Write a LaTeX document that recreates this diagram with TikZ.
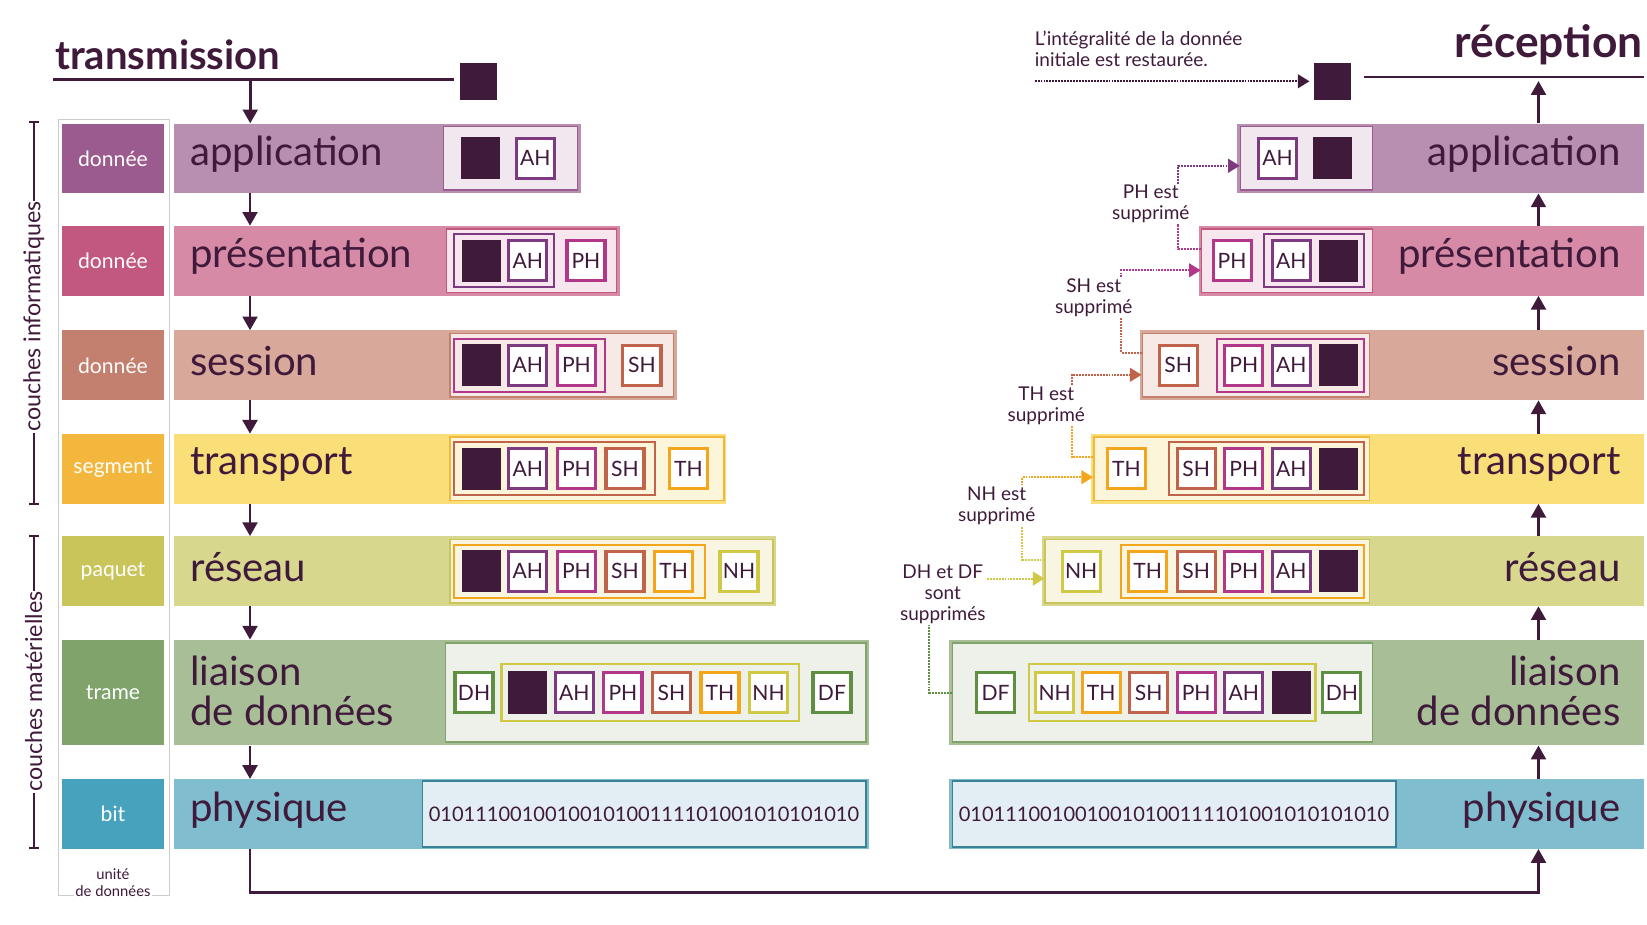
\documentclass[tikz,border=0pt]{standalone}
\usepackage{fontspec}
\setmainfont{Lato}
\usetikzlibrary{arrows.meta,positioning}
\definecolor{dk}{HTML}{3F1A3B}
\definecolor{appL}{HTML}{9B5B8E}\definecolor{appB}{HTML}{B88FB0}\definecolor{appI}{HTML}{F1E7EF}
\definecolor{preL}{HTML}{C2577F}\definecolor{preB}{HTML}{D68AA6}\definecolor{preI}{HTML}{F7E6EE}
\definecolor{sesL}{HTML}{C4806E}\definecolor{sesB}{HTML}{D8A89B}\definecolor{sesI}{HTML}{F6E9E6}
\definecolor{traL}{HTML}{F4B73D}\definecolor{traB}{HTML}{FADF78}\definecolor{traI}{HTML}{FDF5DA}
\definecolor{resL}{HTML}{C9C55A}\definecolor{resB}{HTML}{D8D78E}\definecolor{resI}{HTML}{F8F6E2}
\definecolor{liaL}{HTML}{7FA36A}\definecolor{liaB}{HTML}{A7BE96}\definecolor{liaI}{HTML}{EDF1EA}
\definecolor{phyL}{HTML}{47A3BD}\definecolor{phyB}{HTML}{80BECF}\definecolor{phyI}{HTML}{E3EEF4}
\definecolor{cAH}{HTML}{7E3A80}\definecolor{cPH}{HTML}{B2378A}\definecolor{cSH}{HTML}{C0634A}
\definecolor{cTH}{HTML}{F3A51B}\definecolor{cNH}{HTML}{CFC945}\definecolor{cDH}{HTML}{5F8F40}
\definecolor{cDF}{HTML}{5F8F40}
\tikzset
{
    unit/.style = {rectangle, inner sep=0, minimum width=97, text=white,
                   font=\fontsize{20}{22}\selectfont},
    bar/.style = {rectangle, inner sep=0},
    inbox/.style = {rectangle, inner sep=0, line width=1.5},
    grp/.style = {rectangle, inner sep=0, line width=2, minimum height=50},
    hd/.style = {rectangle, inner sep=0, line width=3, fill=white, text=dk,
                 minimum width=36, minimum height=38, font=\fontsize{20}{22}\selectfont},
    blk/.style = {rectangle, inner sep=0, fill=dk, minimum width=37, minimum height=40},
    title/.style = {text=dk, inner sep=0, font=\fontsize{38}{38}\selectfont},
    note/.style = {text=dk, align=center, inner sep=1, font=\fontsize{18}{20}\selectfont},
    flow/.style = {draw=dk, line width=2.5, -{Triangle[length=13,width=14]}},
    dots/.style = {densely dotted, line width=1.8},
    dotarrow/.style = {dots, -{Triangle[length=11,width=13]}}
}
\begin{document}
\begin{tikzpicture}[x=1pt, y=-1pt]
    \useasboundingbox (0,0) rectangle (1560,876);
    % rows
    \foreach \n/\u/\t/\b/\le/\rs in {app/donnée/117/183/550/1172, pre/donnée/214/280/587/1136,
            ses/donnée/313/379/641/1080, tra/segment/411/477/688/1033, res/paquet/508/574/735/987,
            lia/trame/606/706/823/899, phy/bit/738/804/823/899}
    {
        \node[unit, fill=\n L, minimum height={\b-\t}] (\n-u) at (107,{(\t+\b)/2}) {\u};
        \node[bar, fill=\n B, minimum width={\le-165}, minimum height={\b-\t}]
            (\n-l) at ({(165+\le)/2},{(\t+\b)/2}) {};
        \node[bar, fill=\n B, minimum width={1557-\rs}, minimum height={\b-\t}]
            (\n-r) at ({(\rs+1557)/2},{(\t+\b)/2}) {};
    }
    % inner boxes
    \foreach \n/\y/\h/\xl/\wl/\xr/\wr in {app/150/60/483.5/127/1237.5/125, pre/247/60/503.5/161/1219/162,
            ses/346/60/532/212/1189.5/215, tra/444/60/556/260/1166.5/261, res/541/60/579/306/1143.5/307,
            lia/656/94/621/398/1101/398}
    {
        \node[inbox, fill=\n I, draw=\n L, minimum width=\wl, minimum height=\h] (\n-li) at (\xl,\y) {};
        \node[inbox, fill=\n I, draw=\n L, minimum width=\wr, minimum height=\h] (\n-ri) at (\xr,\y) {};
    }
    \node[inbox, fill=phyI, draw=phyL!80!black, minimum width=420, minimum height=62] (phy-li) at (610,771) {};
    \node[inbox, fill=phyI, draw=phyL!80!black, minimum width=420, minimum height=62] (phy-ri) at (1112,771) {};

    % layer titles
    \foreach \n/\y/\t in {app/150/application, pre/247/présentation, ses/346/session, tra/444/transport,
            res/541/réseau, phy/771/physique}
    {
        \node[title, anchor=west] (\n-tl) at (180,\y-4) {\t};
        \node[title, anchor=east] (\n-tr) at (1535,\y-4) {\t};
    }
    \node[title, anchor=west, align=left] (lia-tl) at (180,654) {liaison\\de données};
    \node[title, anchor=east, align=right] (lia-tr) at (1535,654) {liaison\\de données};

    % groups
    \node[grp, draw=cAH, minimum width=95] (pre-gl) at (477.5,247) {};
    \node[grp, draw=cPH, minimum width=143] (ses-gl) at (501.5,346) {};
    \node[grp, draw=cSH, minimum width=190] (tra-gl) at (525,444) {};
    \node[grp, draw=cTH, minimum width=238] (res-gl) at (549,541) {};
    \node[grp, draw=cNH, minimum width=282, minimum height=54] (lia-gl) at (616,656) {};
    \node[grp, draw=cAH, minimum width=95] (pre-gr) at (1244.5,247) {};
    \node[grp, draw=cPH, minimum width=139] (ses-gr) at (1222.5,346) {};
    \node[grp, draw=cSH, minimum width=185] (tra-gr) at (1199.5,444) {};
    \node[grp, draw=cTH, minimum width=230] (res-gr) at (1177,541) {};
    \node[grp, draw=cNH, minimum width=271, minimum height=54] (lia-gr) at (1110.5,656) {};

    % data blocks
    \foreach \n/\y/\xl/\xr in {app/150/455/1262, pre/247/456/1268, ses/346/456/1268,
            tra/444/456/1268, res/541/456/1268, lia/656/500/1223}
    {
        \node[blk] (\n-dl) at (\xl,\y) {};
        \node[blk] (\n-dr) at (\xr,\y) {};
    }

    % headers, transmission side
    \foreach \x/\l in {507/AH} \node[hd, draw=c\l] (app-\l-l) at (\x,150) {\l};
    \foreach \x/\l in {500/AH, 555/PH} \node[hd, draw=c\l] (pre-\l-l) at (\x,247) {\l};
    \foreach \x/\l in {500/AH, 546/PH, 608/SH} \node[hd, draw=c\l] (ses-\l-l) at (\x,346) {\l};
    \foreach \x/\l in {500/AH, 546/PH, 592/SH, 652/TH} \node[hd, draw=c\l] (tra-\l-l) at (\x,444) {\l};
    \foreach \x/\l in {500/AH, 546/PH, 592/SH, 638/TH, 700/NH} \node[hd, draw=c\l] (res-\l-l) at (\x,541) {\l};
    \foreach \x/\l in {449/DH, 544/AH, 590/PH, 636/SH, 682/TH, 728/NH, 788/DF}
        \node[hd, draw=c\l] (lia-\l-l) at (\x,656) {\l};

    % headers, reception side
    \foreach \x/\l in {1210/AH} \node[hd, draw=c\l] (app-\l-r) at (\x,150) {\l};
    \foreach \x/\l in {1167/PH, 1223/AH} \node[hd, draw=c\l] (pre-\l-r) at (\x,247) {\l};
    \foreach \x/\l in {1116/SH, 1178/PH, 1223/AH} \node[hd, draw=c\l] (ses-\l-r) at (\x,346) {\l};
    \foreach \x/\l in {1067/TH, 1133/SH, 1178/PH, 1223/AH} \node[hd, draw=c\l] (tra-\l-r) at (\x,444) {\l};
    \foreach \x/\l in {1024/NH, 1087/TH, 1133/SH, 1178/PH, 1223/AH} \node[hd, draw=c\l] (res-\l-r) at (\x,541) {\l};
    \foreach \x/\l in {943/DF, 999/NH, 1043/TH, 1088/SH, 1133/PH, 1178/AH, 1271/DH}
        \node[hd, draw=c\l] (lia-\l-r) at (\x,656) {\l};

    % bits
    \node[text=dk, font=\fontsize{19}{20}\selectfont] (bits-l) at (phy-li) {0101110010010010100111101001010101010};
    \node[text=dk, font=\fontsize{19}{20}\selectfont] (bits-r) at (phy-ri) {0101110010010010100111101001010101010};

    % top
    \node[text=dk, anchor=south west, inner sep=0, font=\bfseries\fontsize{38}{38}\selectfont] (emit) at (52,66) {transmission};
    \draw[dk, line width=2.5] (50,75) -- (430,75);
    \node[blk, minimum width=35, minimum height=35] (sq-l) at (453,77) {};
    \node[text=dk, anchor=south east, inner sep=0, font=\bfseries\fontsize{42}{42}\selectfont] (recv) at (1556,62) {réception};
    \draw[dk, line width=2.5] (1292,73) -- (1557,73);
    \node[blk, minimum width=35, minimum height=35] (sq-r) at (1262,77) {};
    \node[note, anchor=north west, align=left, inner sep=0] (rest-t) at (980,29) {L’intégralité de la donnée\\initiale est restaurée.};
    \draw[dotarrow, dk] (sq-r.west -| rest-t.west) -- ([xshift=-4]sq-r.west);

    % flow down and up
    \coordinate (top-l) at (237,75);
    \draw[flow] (top-l) -- (top-l |- app-l.north);
    \foreach \a/\b in {app/pre, pre/ses, ses/tra, tra/res, res/lia, lia/phy}
    {
        \draw[flow] ([xshift=72]\a-l.south west) -- ([xshift=72]\b-l.north west);
        \draw[flow] ([xshift=-100]\b-r.north east) -- ([xshift=-100]\a-r.south east);
    }
    \draw[flow] ([xshift=-100]app-r.north east) -- ++(0,-40);
    \draw[flow] ([xshift=72]phy-l.south west) -- ([xshift=72,yshift=-41]phy-l.south west)
        -| ([xshift=-100]phy-r.south east);

    % removed headers
    \node[note] (ph-t) at (1090,193) {PH est\\supprimé};
    \node[note] (sh-t) at (1036,282) {SH est\\supprimé};
    \node[note] (th-t) at (991,384) {TH est\\supprimé};
    \node[note] (nh-t) at (944,479) {NH est\\supprimé};
    \node[note] (dh-t) at (893,563) {DH et DF\\sont\\supprimés};
    \draw[dots, cPH] ([yshift=11]pre-ri.west) -| ([xshift=26]ph-t.south);
    \draw[dotarrow, cAH] ([xshift=26]ph-t.north) |- ([yshift=-7]app-ri.west);
    \draw[dots, cSH] ([yshift=12]ses-ri.west) -| ([xshift=26]sh-t.south);
    \draw[dotarrow, cPH] ([xshift=26]sh-t.north) |- ([yshift=-9]pre-ri.west);
    \draw[dots, cTH] ([yshift=11]tra-ri.west) -| ([xshift=24]th-t.south);
    \draw[dotarrow, cSH] ([xshift=24]th-t.north) |- ([yshift=-9]ses-ri.west);
    \draw[dots, cNH] ([yshift=11]res-ri.west) -| ([xshift=24]nh-t.south);
    \draw[dotarrow, cTH] ([xshift=24]nh-t.north) |- ([yshift=-8]tra-ri.west);
    \draw[dots, cDH] (lia-ri.west) -| ([xshift=-13]dh-t.south);
    \draw[dotarrow, cNH] ([yshift=15]dh-t.east) -- ([yshift=-7]res-ri.west);

    % side scales
    \draw[dk, line width=1.5, |-|] (32,115) -- (32,478);
    \node[note, fill=white, rotate=90, font=\fontsize{22}{24}\selectfont] (info) at (32,300) {couches informatiques};
    \draw[dk, line width=1.5, |-|] (32,507) -- (32,804);
    \node[note, fill=white, rotate=90, font=\fontsize{22}{24}\selectfont] (mat) at (32,655) {couches matérielles};
    \draw[black!20] (55,113) rectangle (160,848);
    \node[note, fill=white, font=\fontsize{14}{16}\selectfont] (unit-t) at (107,836) {unité\\de données};
\end{tikzpicture}
\end{document}
